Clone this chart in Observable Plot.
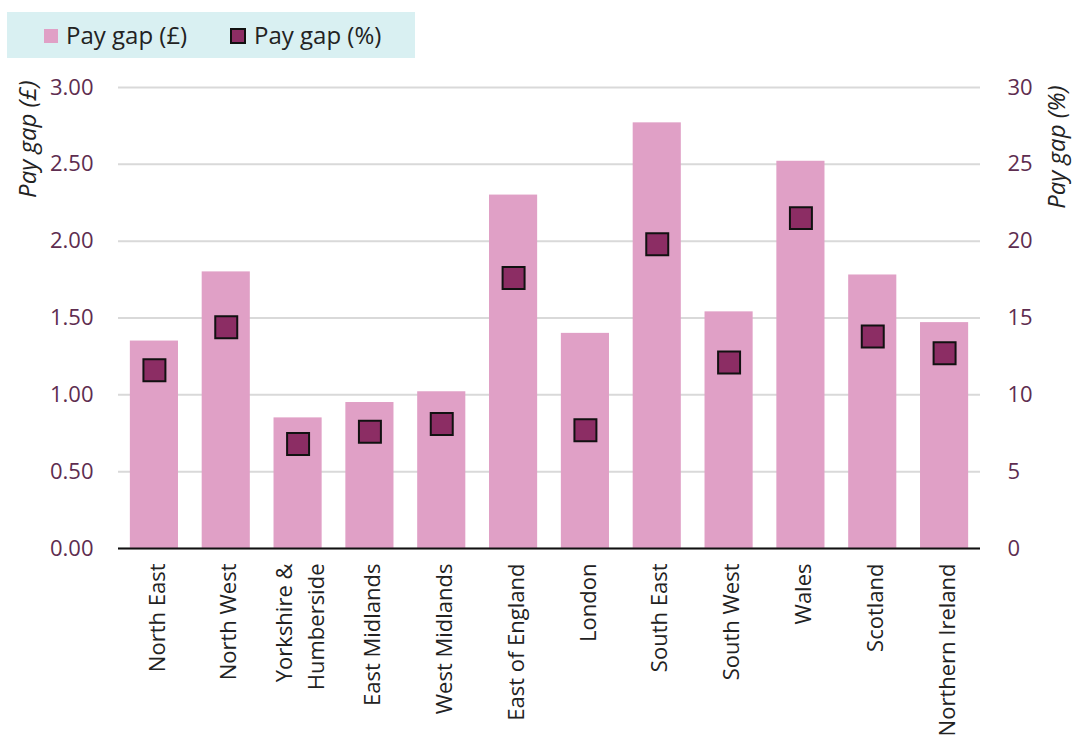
<!DOCTYPE html>
<html>
<head>
<meta charset="utf-8">
<script src="https://cdn.jsdelivr.net/npm/d3@7"></script>
<script src="https://cdn.jsdelivr.net/npm/@observablehq/plot@0.6"></script>
<style>
  html, body { margin: 0; padding: 0; background: #fff; }
  #wrap { position: relative; width: 1072px; height: 735px; font-family: "Open Sans", "Noto Sans", sans-serif; }
  #legend { position: absolute; left: 7px; top: 12px; width: 408px; height: 46px; background: #d9f0f2; font-size: 24px; color: #222; }
  .sw { position: absolute; top: 17px; box-sizing: border-box; }
  .lt { position: absolute; top: 0px; line-height: 46px; white-space: nowrap; }
</style>
</head>
<body>
<div id="wrap">
  <div id="legend">
    <div class="sw" style="left:37px;width:14px;height:14px;background:#e0a0c6;"></div>
    <div class="lt" style="left:59px;">Pay gap (£)</div>
    <div class="sw" style="left:223px;top:16px;width:16px;height:16px;background:#8c2d64;border:2px solid #111;"></div>
    <div class="lt" style="left:247px;">Pay gap (%)</div>
  </div>
  <div id="chart"></div>
</div>
<script>
const regions = ["North East", "North West", "Yorkshire &\nHumberside", "East Midlands", "West Midlands", "East of England", "London", "South East", "South West", "Wales", "Scotland", "Northern Ireland"];
const gapPounds = [1.35, 1.80, 0.85, 0.95, 1.02, 2.30, 1.40, 2.77, 1.54, 2.52, 1.78, 1.47];
const gapPercent = [11.6, 14.4, 6.8, 7.6, 8.1, 17.6, 7.7, 19.8, 12.1, 21.5, 13.8, 12.7];
const leftTicks = [0, 0.5, 1, 1.5, 2, 2.5, 3];

const data = regions.map((r, i) => ({region: r, pounds: gapPounds[i], pct: gapPercent[i]}));
const tickColor = "#5e2d50";

const chart = Plot.plot({
  width: 1072,
  height: 735,
  marginTop: 87,
  marginBottom: 187,
  marginLeft: 118,
  marginRight: 92,
  style: {fontFamily: "'Open Sans', 'Noto Sans', sans-serif", fontSize: "20px", background: "transparent"},
  x: {domain: regions, paddingInner: 0.33, paddingOuter: 0.165, round: false, label: null},
  y: {domain: [0, 3], label: null},
  marks: [
    Plot.gridY(leftTicks, {stroke: "#d9d9d9", strokeOpacity: 1, strokeWidth: 2}),
    Plot.barY(data, {x: "region", y: "pounds", fill: "#e0a0c6"}),
    Plot.ruleY([0], {stroke: "#111", strokeWidth: 2}),
    Plot.dot(data, {x: "region", y: d => d.pct / 10, symbol: "square", r: 12.4, fill: "#8c2d64", stroke: "#111", strokeWidth: 2}),
    Plot.axisY(leftTicks, {anchor: "left", tickSize: 0, tickPadding: 25, tickFormat: d => d.toFixed(2), fill: tickColor, label: null, fontSize: 22}),
    Plot.axisY(leftTicks, {anchor: "right", tickSize: 0, tickPadding: 27, tickFormat: d => String(Math.round(d * 10)), fill: tickColor, label: null, fontSize: 22}),
    Plot.axisX({tickSize: 0, tickPadding: 15, tickRotate: -90, fill: "#222", label: null, fontSize: 22, lineHeight: 1.45}),
    Plot.text(["Pay gap (£)"], {frameAnchor: "top-left", dx: -90, dy: -7, rotate: -90, textAnchor: "end", lineAnchor: "middle", fontStyle: "italic", fontSize: 24, fill: "#222"}),
    Plot.text(["Pay gap (%)"], {frameAnchor: "top-right", dx: 77, dy: -2, rotate: -90, textAnchor: "end", lineAnchor: "middle", fontStyle: "italic", fontSize: 24, fill: "#222"})
  ]
});
document.getElementById("chart").appendChild(chart);
</script>
</body>
</html>
